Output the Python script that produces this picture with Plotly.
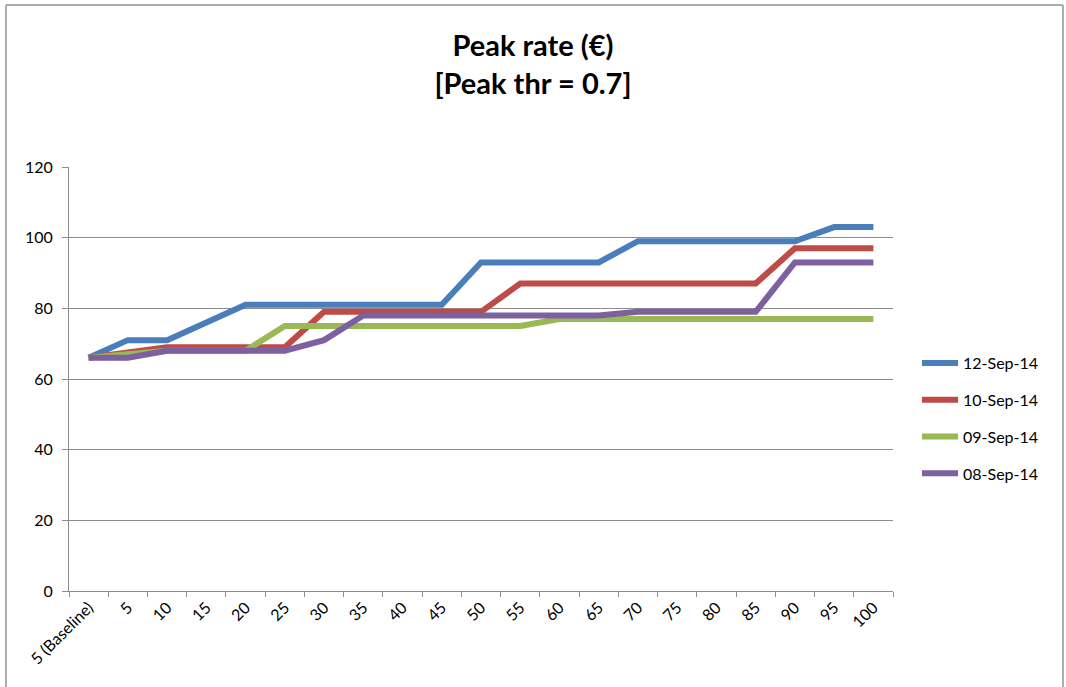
import plotly.graph_objects as go

# Categories along the x axis
categories = ["5 (Baseline)", "5", "10", "15", "20", "25", "30", "35", "40", "45",
              "50", "55", "60", "65", "70", "75", "80", "85", "90", "95", "100"]

# Peak rate per series (€)
sep12 = [66, 71, 71, 76, 81, 81, 81, 81, 81, 81, 93, 93, 93, 93, 99, 99, 99, 99, 99, 103, 103]
sep10 = [66, 67.5, 69, 69, 69, 69, 79, 79, 79, 79, 79, 87, 87, 87, 87, 87, 87, 87, 97, 97, 97]
sep09 = [66, 67, 68, 68, 68, 75, 75, 75, 75, 75, 75, 75, 77, 77, 77, 77, 77, 77, 77, 77, 77]
sep08 = [66, 66, 68, 68, 68, 68, 71, 78, 78, 78, 78, 78, 78, 78, 79, 79, 79, 79, 93, 93, 93]

series_names = ["12-Sep-14", "10-Sep-14", "09-Sep-14", "08-Sep-14"]
series_values = [sep12, sep10, sep09, sep08]
series_colors = ["#4A7EBB", "#BE4B48", "#98B954", "#7D60A0"]

y_ticks = [0, 20, 40, 60, 80, 100, 120]

W, H = 1066, 687
ML, MR, MT, MB = 69, 173, 167, 96
FONT = "Lato, Calibri, sans-serif"

fig = go.Figure()
for i, (name, vals, col) in enumerate(zip(series_names, series_values, series_colors)):
    fig.add_trace(go.Scatter(
        x=categories, y=vals, name=name, mode="lines",
        line=dict(color=col, width=6), legendgroup=f"g{i}",
    ))

# frame around the chart area (left, top, right edges)
pw, ph = W - ML - MR, H - MT - MB
def px_x(v):
    return (v - ML) / pw
def px_y(v):
    return (H - MB - v) / ph

frame = dict(type="line", xref="paper", yref="paper", line=dict(color="#ADADAD", width=2))
fig.add_shape(**frame, x0=px_x(6), x1=px_x(6), y0=px_y(5), y1=px_y(700))
fig.add_shape(**frame, x0=px_x(6), x1=px_x(1063), y0=px_y(5), y1=px_y(5))
fig.add_shape(**frame, x0=px_x(1063), x1=px_x(1063), y0=px_y(5), y1=px_y(700))

fig.update_layout(
    width=W, height=H,
    margin=dict(l=ML, r=MR, t=MT, b=MB),
    paper_bgcolor="white", plot_bgcolor="white",
    font=dict(family=FONT, size=16, color="#000000"),
    title=dict(
        text="<b>Peak rate (€)<br>[Peak thr = 0.7]</b>",
        x=0.5, xanchor="center", y=1 - 56 / H, yanchor="middle", yref="container",
        font=dict(family=FONT, size=29, color="#000000"),
    ),
    showlegend=True,
    legend=dict(
        x=px_x(917), y=px_y(346), xanchor="left", yanchor="top",
        font=dict(family=FONT, size=16, color="#000000"),
        tracegroupgap=13, itemwidth=36, bgcolor="rgba(0,0,0,0)",
    ),
    xaxis=dict(
        type="category", tickson="boundaries", tickangle=-45,
        showgrid=False, showline=True, linecolor="#8C8C8C", linewidth=1,
        ticks="outside", ticklen=5, tickcolor="#8C8C8C",
        range=[-0.5, len(categories) - 0.5],
        tickfont=dict(family=FONT, size=16, color="#000000"),
    ),
    yaxis=dict(
        range=[0, 120], tickvals=y_ticks,
        showgrid=True, gridcolor="#8C8C8C", gridwidth=1,
        showline=True, linecolor="#8C8C8C", linewidth=1,
        ticks="outside", ticklen=6, tickcolor="#8C8C8C",
        zeroline=False, ticklabelstandoff=6,
        tickfont=dict(family=FONT, size=16, color="#000000"),
    ),
)

fig.write_html("out.html")
